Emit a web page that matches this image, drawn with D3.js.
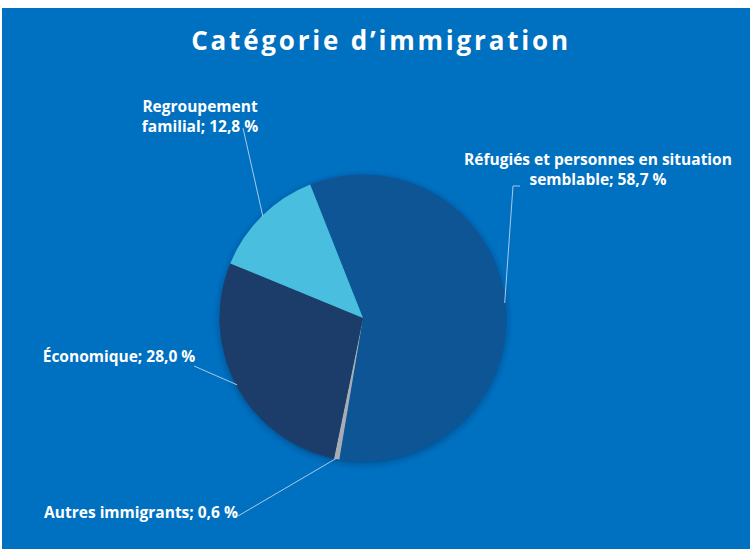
<!DOCTYPE html>
<html>
<head>
<meta charset="utf-8">
<script src="https://cdn.jsdelivr.net/npm/d3@7"></script>
<style>
  html, body { margin: 0; padding: 0; background: #fff; }
  svg { display: block; }
</style>
</head>
<body>
<svg id="chart"></svg>
<script>
// Données
const categories = [
    "Réfugiés et personnes en situation semblable",
    "Autres immigrants",
    "Économique",
    "Regroupement familial"
];
const values = [58.7, 0.6, 28.0, 12.8];
// découpage des étiquettes sur plusieurs lignes
const labelLines = [
    ["Réfugiés et personnes en situation", "semblable"],
    ["Autres immigrants"],
    ["Économique"],
    ["Regroupement", "familial"]
];
const colors = ["#0B5595", "#A9ADB3", "#1B3C69", "#48BEDE"];

const width = 750;
const height = 550;

const svg = d3.select("#chart")
    .attr("width", width)
    .attr("height", height);

// Fond
svg.append("rect")
    .attr("x", 2)
    .attr("y", 8)
    .attr("width", width - 2)
    .attr("height", 541)
    .attr("fill", "#0070C0");

// Titre
svg.append("text")
    .attr("x", 381)
    .attr("y", 50)
    .attr("text-anchor", "middle")
    .attr("fill", "#fff")
    .attr("font-family", "'Open Sans', sans-serif")
    .attr("font-weight", "bold")
    .attr("font-size", 26)
    .attr("letter-spacing", 2.8)
    .text("Catégorie d’immigration");

const defs = svg.append("defs");
const shadow = defs.append("filter")
    .attr("id", "shadow")
    .attr("x", "-20%").attr("y", "-20%")
    .attr("width", "140%").attr("height", "140%");
shadow.append("feDropShadow")
    .attr("dx", 0)
    .attr("dy", 2)
    .attr("stdDeviation", 3)
    .attr("flood-color", "#00224a")
    .attr("flood-opacity", 0.45);

const cx = 363, cy = 318, radius = 143.5;
const startAngle = -21.6 * Math.PI / 180;

const pie = d3.pie()
    .sort(null)
    .value(d => d)
    .startAngle(startAngle)
    .endAngle(startAngle + 2 * Math.PI);

const arc = d3.arc().innerRadius(0).outerRadius(radius);
const edgeArc = d3.arc().innerRadius(radius - 1).outerRadius(radius - 1);

const arcs = pie(values);

const g = svg.append("g")
    .attr("transform", `translate(${cx},${cy})`);

g.append("g")
    .attr("filter", "url(#shadow)")
    .selectAll("path")
    .data(arcs)
    .enter()
    .append("path")
    .attr("d", arc)
    .attr("fill", (d, i) => colors[i]);

// Positions des étiquettes (centre du texte, ligne de base de la 1re ligne)
// et point d'attache de la ligne de repère
const labelLayout = [
    { x: 598, y: 165, ax: 520, ay: 186, bx: 513, by: 186 },
    { x: 141, y: 518, ax: 238, ay: 516 },
    { x: 119, y: 362, ax: 194, ay: 366 },
    { x: 200, y: 112, ax: 243, ay: 128 }
];

const fmt = v => d3.format(".1f")(v).replace(".", ",");

// Lignes de repère
arcs.forEach((d, i) => {
    const L = labelLayout[i];
    const [ex, ey] = edgeArc.centroid(d);
    const pts = [[L.ax, L.ay]];
    if (L.bx !== undefined) pts.push([L.bx, L.by]);
    pts.push([cx + ex, cy + ey]);
    svg.append("polyline")
        .attr("points", pts.map(p => p.join(",")).join(" "))
        .attr("fill", "none")
        .attr("stroke", "#A9C9E8")
        .attr("stroke-width", 1);
});

// Étiquettes
arcs.forEach((d, i) => {
    const L = labelLayout[i];
    const lines = labelLines[i].slice();
    lines[lines.length - 1] += "; " + fmt(values[i]) + " %";
    const t = svg.append("text")
        .attr("text-anchor", "middle")
        .attr("fill", "#fff")
        .attr("font-family", "'Open Sans', sans-serif")
        .attr("font-weight", "bold")
        .attr("font-size", 15.5);
    lines.forEach((line, j) => {
        t.append("tspan")
            .attr("x", L.x)
            .attr("y", L.y + j * 20)
            .text(line);
    });
});
</script>
</body>
</html>
